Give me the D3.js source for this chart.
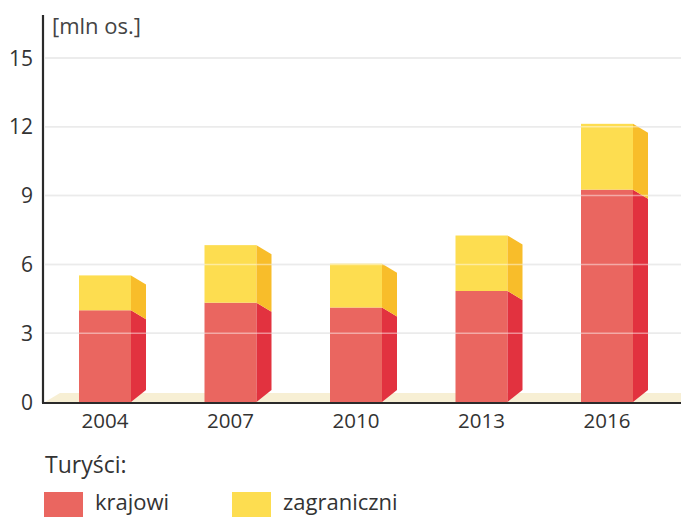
<!DOCTYPE html>
<html><head><meta charset="utf-8">
<script src="https://cdn.jsdelivr.net/npm/d3@7/dist/d3.min.js"></script>
<style>body{margin:0;background:#fff}svg{display:block}text{font-family:"Open Sans",sans-serif}</style>
</head><body>
<svg id="c" width="681" height="517"></svg>
<script>
const years = ["2004","2007","2010","2013","2016"];
const krajowi = [4.0, 4.33, 4.12, 4.84, 9.26];
const zagraniczni = [1.52, 2.51, 1.91, 2.42, 2.87];
const yTicks = [0,3,6,9,12,15];
const unitLabel = "[mln os.]";
const legendTitle = "Turyści:";
const seriesNames = ["krajowi","zagraniczni"];

const svg = d3.select("#c");
const y = d3.scaleLinear().domain([0,15]).range([402,58]);
const x = d3.scalePoint().domain(years).range([105,607]);
const fw = 52, dx = 15, dTop = 9, dBot = 12;
const cols = {kf:"#ea6660", ks:"#e2323f", zf:"#fddd50", zs:"#f8bd2a"};

// floor
svg.append("path").attr("d", `M45,${y(0)} L60,${y(0)-9} L681,${y(0)-9} L681,${y(0)} Z`).attr("fill","#f7efd4");

// gridlines under
svg.append("g").selectAll("line").data(yTicks.filter(d=>d>0)).join("line")
 .attr("x1",45).attr("x2",681).attr("y1",d=>y(d)).attr("y2",d=>y(d))
 .attr("stroke","#dadada").attr("stroke-width",1.5);

// bars
const data = years.map((yr,i)=>({yr, k:krajowi[i], t:krajowi[i]+zagraniczni[i]}));
const bars = svg.append("g").selectAll("g").data(data).join("g");
bars.each(function(d){
  const gg = d3.select(this);
  const x0 = x(d.yr)-fw/2, x1 = x0+fw, x2 = x1+dx;
  const y0 = y(0), yk = y(d.k), yt = y(d.t);
  gg.append("rect").attr("x",x0).attr("y",yk).attr("width",fw).attr("height",y0-yk).attr("fill",cols.kf);
  gg.append("rect").attr("x",x0).attr("y",yt).attr("width",fw).attr("height",yk-yt).attr("fill",cols.zf);
  gg.append("path").attr("d",`M${x1},${y0} L${x2},${y0-dBot} L${x2},${yk+dTop} L${x1},${yk} Z`).attr("fill",cols.ks);
  gg.append("path").attr("d",`M${x1},${yk} L${x2},${yk+dTop} L${x2},${yt+dTop} L${x1},${yt} Z`).attr("fill",cols.zs);
});

// gridlines over bars (light)
svg.append("g").selectAll("line").data(yTicks.filter(d=>d>0)).join("line")
 .attr("x1",45).attr("x2",681).attr("y1",d=>y(d)).attr("y2",d=>y(d))
 .attr("stroke","#ffffff").attr("stroke-opacity",0.45).attr("stroke-width",1.5);

// axes
svg.append("line").attr("x1",43).attr("x2",43).attr("y1",15).attr("y2",y(0)+1).attr("stroke","#2a2a2a").attr("stroke-width",2.2);
svg.append("line").attr("x1",42).attr("x2",681).attr("y1",y(0)+1).attr("y2",y(0)+1).attr("stroke","#2a2a2a").attr("stroke-width",2);

svg.append("g").selectAll("text").data(yTicks).join("text")
 .attr("x",33).attr("y",d=>y(d)).attr("dy","0.36em").attr("text-anchor","end")
 .attr("font-size",21).attr("fill","#333").text(d=>d);

svg.append("g").selectAll("text").data(years).join("text")
 .attr("x",d=>x(d)).attr("y",428).attr("text-anchor","middle")
 .attr("font-size",20.5).attr("fill","#333").text(d=>d);

svg.append("text").attr("x",52).attr("y",34).attr("font-size",22).attr("fill","#444").text(unitLabel);

// legend
svg.append("text").attr("x",45).attr("y",473).attr("font-size",23).attr("fill","#333").text(legendTitle);
const lg = svg.append("g").selectAll("g").data(seriesNames).join("g")
 .attr("transform",(d,i)=>`translate(${44+i*188},492)`);
lg.append("rect").attr("width",39).attr("height",25).attr("fill",(d,i)=>i?cols.zf:cols.kf);
lg.append("text").attr("x",51).attr("y",18).attr("font-size",22).attr("fill","#333").text(d=>d);
</script>
</body></html>
